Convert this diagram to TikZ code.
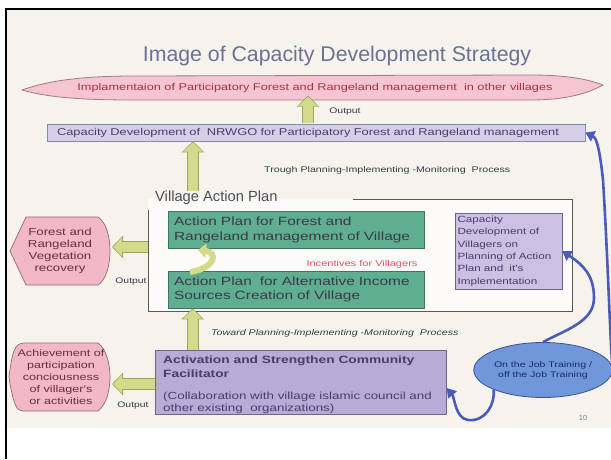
\documentclass[tikz,border=0pt]{standalone}
\usepackage{fontspec}
\setmainfont{Liberation Sans}
\newfontfamily\widefont[FakeStretch=1.3]{Liberation Sans}
\usetikzlibrary{arrows.meta,calc,shapes.geometric}
\definecolor{cream}{HTML}{F6F2EC}
\definecolor{titlecol}{HTML}{6C7196}
\definecolor{lensfill}{HTML}{F5C6D2}
\definecolor{lensdraw}{HTML}{A07A86}
\definecolor{lenstext}{HTML}{A8323A}
\definecolor{lavfill}{HTML}{D6CFE8}
\definecolor{lavdraw}{HTML}{8C86A8}
\definecolor{greenfill}{HTML}{5FAE91}
\definecolor{greendraw}{HTML}{3E7463}
\definecolor{purpfill}{HTML}{B8ABD6}
\definecolor{purpdraw}{HTML}{6E6490}
\definecolor{rboxfill}{HTML}{CBC1E4}
\definecolor{pinkfill}{HTML}{F2B8C8}
\definecolor{pinkdraw}{HTML}{8E6A76}
\definecolor{arrfill}{HTML}{D3DA8A}
\definecolor{arrdraw}{HTML}{9EA55A}
\definecolor{bluefill}{HTML}{6F97DA}
\definecolor{bluedraw}{HTML}{3B4F9E}
\definecolor{bluearrow}{HTML}{4A5CB8}
\definecolor{darktext}{HTML}{3A3A48}
\definecolor{redtext}{HTML}{E0506A}
\definecolor{purptext}{HTML}{4A3C6C}
\definecolor{pinktext}{HTML}{6A2E3E}
\definecolor{navytext}{HTML}{1C2A6A}
\tikzset{
  blkout/.style={arrdraw, line width=12pt, -{Triangle[length=11pt,width=22pt]}},
  blkin/.style={arrfill, line width=10pt, shorten >=1.2pt, -{Triangle[length=9pt,width=19pt]}},
  bluearr/.style={bluearrow, line width=2.6pt, -{Triangle[length=9pt,width=11pt]}},
  smalltext/.style={font=\widefont\fontsize{8}{10}\selectfont, text=darktext, inner sep=0pt},
  greenbox/.style={draw=greendraw, fill=greenfill, line width=0.6pt, minimum width=256pt, minimum height=37pt, align=left, text width=244pt, font=\widefont\fontsize{11.9}{14.5}\selectfont, text=darktext},
  hextext/.style={align=center, font=\widefont\fontsize{10.2}{12}\selectfont, text=pinktext, inner sep=0pt},
}
\begin{document}
\begin{tikzpicture}[x=1pt,y=-1pt]
\useasboundingbox (0,0) rectangle (611,459);
\fill[white] (0,0) rectangle (611,459);
\fill[cream] (7,10) rectangle (611,428);
\draw[line width=2.5pt] (6,459) -- (6,9) -- (611,9);

% title
\node[font=\fontsize{21.3}{23}\selectfont, text=titlecol] (title) at (337,56) {Image of Capacity Development Strategy};

% lens
\path[fill=lensfill, draw=lensdraw, line width=0.8pt]
  (22,90) .. controls (50,80) and (85,76) .. (135,76) -- (530,75)
  .. controls (570,75) and (590,80) .. (603,85)
  .. controls (590,92) and (570,100) .. (530,100) -- (135,100)
  .. controls (85,100) and (50,98) .. cycle;
\node[font=\widefont\fontsize{9.8}{10}\selectfont, text=lenstext] (lens) at (315,87.5) {Implamentaion of Participatory Forest and Rangeland management\ \ in other villages};

% NRWGO box
\node[draw=lavdraw, fill=lavfill, line width=0.6pt, minimum width=538pt, minimum height=17pt, inner sep=0pt, text width=518pt, align=left, font=\widefont\fontsize{9.9}{10}\selectfont, text=purptext] (nrwgo) at (316,132.5) {Capacity Development of\ \ NRWGO for Participatory Forest and Rangeland management};

\node[smalltext] (out1) at (345,112) {Output};
\node[smalltext, anchor=west, font=\widefont\fontsize{8.2}{10}\selectfont] (trough) at (264,170) {Trough Planning-Implementing -Monitoring\ \ Process};

% village action plan
\path[fill=white!70!cream] (148,199) rectangle (572,311);
\draw[gray!70!black, line width=0.7pt] (353,199) -- (572,199) -- (572,311) -- (148,311) -- (148,210);
\node[anchor=west, font=\fontsize{14.7}{15}\selectfont, text=darktext!90!white, inner sep=0pt] (vtitle) at (155,198) {Village Action Plan};

\node[greenbox] (g1) at (296,230) {Action Plan for Forest and\\Rangeland management of Village};
\node[greenbox] (g2) at (296,289.5) {Action Plan\ \ for Alternative Income\\Sources Creation of Village};
\node[font=\widefont\fontsize{8.5}{10}\selectfont, text=redtext, inner sep=0pt] (incent) at (362,264) {Incentives for Villagers};

\node[draw=purpdraw, fill=rboxfill, line width=0.6pt, minimum width=107pt, minimum height=76pt, text width=102pt, inner sep=2.5pt, align=left, font=\widefont\fontsize{9}{12.3}\selectfont, text=purptext] (rbox) at (508.5,251) {Capacity\\Development of\\Villagers on\\Planning of Action\\Plan and\ \ it's\\Implementation};

% purple box
\node[draw=purpdraw, fill=purpfill, line width=0.6pt, minimum width=291pt, minimum height=64pt, inner sep=0pt] (purp) at (301,382) {};
\node[anchor=north west, align=left, font=\widefont\bfseries\fontsize{10.6}{14}\selectfont, text=purptext, inner sep=0pt] (purpt) at (163,356) {Activation and Strengthen Community\\Facilitator};
\node[anchor=north west, align=left, font=\widefont\fontsize{10.3}{12}\selectfont, text=purptext, inner sep=0pt] (purpc) at (163,392) {(Collaboration with village islamic council and\\other existing\ \ organizations)};

% hex shapes
\path[fill=pinkfill, draw=pinkdraw, line width=0.7pt]
  (26,217) -- (98,217) .. controls (114,227) and (114,275) .. (98,285) -- (26,285) -- (10,251) -- cycle;
\node[hextext] (hex1) at (60,251) {Forest and\\Rangeland\\Vegetation\\recovery};
\path[fill=pinkfill, draw=pinkdraw, line width=0.7pt]
  (24,343) -- (98,343) .. controls (114,355) and (114,399) .. (98,411) -- (24,411) .. controls (16,411) and (14,404) .. (10,384) -- (9,377) .. controls (12,354) and (14,343) .. cycle;
\node[hextext, font=\widefont\fontsize{9.7}{12.2}\selectfont] (hex2) at (61,377) {Achievement of\\participation\\conciousness\\of villager's\\or activities};

\node[smalltext] (out2) at (131,282) {Output};
\node[smalltext] (out3) at (133,406) {Output};

% ellipse
\node[ellipse, draw=bluedraw, fill=bluefill, line width=0.8pt, minimum width=112pt, minimum height=55pt, inner sep=0pt, align=center, font=\widefont\fontsize{8.1}{10}\selectfont, text=navytext] (ojt) at (543,370) {On the Job Training /\\off the Job Training};

\node[font=\fontsize{7.5}{9}\selectfont, text=gray] (pg) at (583,418) {10};
\node[font=\widefont\itshape\fontsize{8.2}{9}\selectfont, text=darktext, anchor=west, inner sep=0pt] (toward) at (211,333) {Toward Planning-Implementing -Monitoring\ \ Process};

% block arrows
\coordinate (a1) at (308,123);
\coordinate (a2) at (193,191);
\coordinate (a3) at ($(g2.south west)+(25,0)$);
\foreach \s in {blkout,blkin}{
  \draw[\s] (a1) -- (a1 |- lens.south);
  \draw[\s] (a2) -- (a2 |- nrwgo.south);
  \draw[\s] (a3 |- purp.north) -- (a3);
  \draw[\s] (148,247) -- (112,247);
  \draw[\s] (purp.west |- 0,384) -- (112,384);
}
\draw[arrfill, line width=6pt, -{Triangle[length=8pt,width=14pt]}] (190,272) .. controls (216,268) and (218,252) .. (198,250);

% blue arrows
\draw[bluearr] (ojt.east) .. controls (610,340) and (608,260) .. (603,180) .. controls (600,152) and (597,138) .. (nrwgo.east);
\draw[bluearr] (ojt.north) .. controls (565,330) and (594,322) .. (594,298) .. controls (594,275) and (583,265) .. (rbox.east);
\draw[bluearr] (ojt.south west) .. controls (495,405) and (485,422) .. (468,420) .. controls (455,418) and (455,398) .. (purp.east |- 0,388);
\end{tikzpicture}
\end{document}
